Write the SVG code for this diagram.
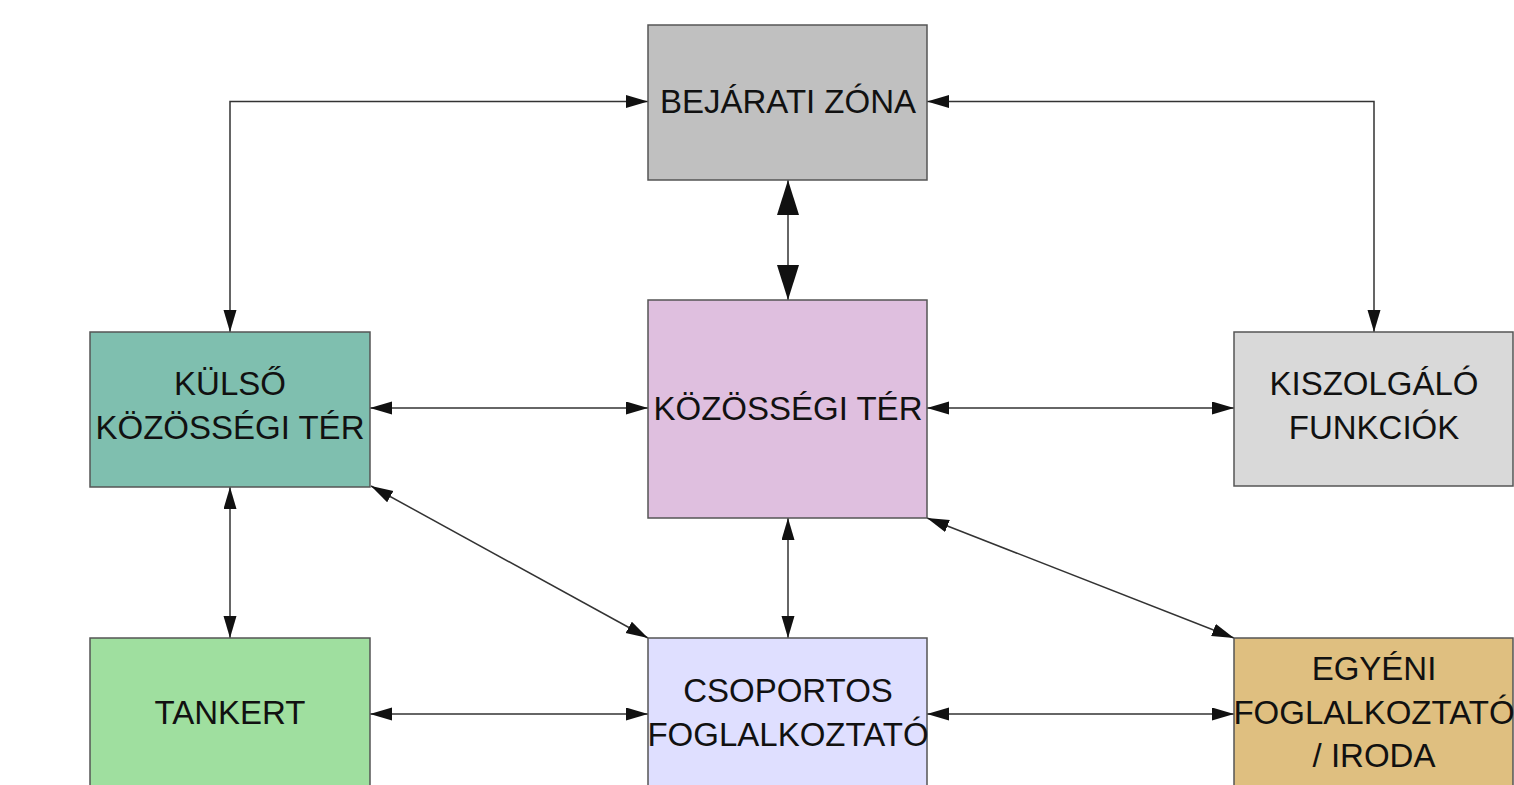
<svg xmlns="http://www.w3.org/2000/svg" width="1514" height="785" viewBox="0 0 1514 785">
  <defs>
    <marker id="sm" markerUnits="userSpaceOnUse" markerWidth="24" markerHeight="14" refX="22" refY="6.5" orient="auto-start-reverse">
      <path d="M0,0 L22,6.5 L0,13 z" fill="#111"/>
    </marker>
    <marker id="lg" markerUnits="userSpaceOnUse" markerWidth="38" markerHeight="24" refX="35" refY="11" orient="auto-start-reverse">
      <path d="M0,0 L35,11 L0,22 z" fill="#111"/>
    </marker>
  </defs>
  <style>
    .box { stroke: #555; stroke-width: 1.5; }
    .lbl { font-family: "Liberation Sans", Arial, sans-serif; font-size: 33px; fill: #111; text-anchor: middle; }
    .con { fill: none; stroke: #333; stroke-width: 1.5; marker-start: url(#sm); marker-end: url(#sm); }
    .con-lg { fill: none; stroke: #333; stroke-width: 1.5; marker-start: url(#lg); marker-end: url(#lg); }
  </style>
  <rect width="1514" height="785" fill="#fff"/>

  <g id="connectors">
    <polyline class="con" points="230,332 230,101.5 648,101.5"/>
    <polyline class="con" points="927,101.5 1374,101.5 1374,332"/>
    <line class="con-lg" x1="788" y1="180" x2="788" y2="300"/>
    <line class="con" x1="370" y1="408" x2="648" y2="408"/>
    <line class="con" x1="927" y1="408" x2="1234" y2="408"/>
    <line class="con" x1="230" y1="487" x2="230" y2="638"/>
    <line class="con" x1="371" y1="486" x2="648" y2="638"/>
    <line class="con" x1="788" y1="518" x2="788" y2="638"/>
    <line class="con" x1="927" y1="518" x2="1234" y2="638"/>
    <line class="con" x1="370" y1="714" x2="648" y2="714"/>
    <line class="con" x1="927" y1="714" x2="1234" y2="714"/>
  </g>

  <g id="bejarati-zona">
    <rect class="box" x="648" y="25" width="279" height="155" fill="#c0c0c0"/>
    <text class="lbl" x="788" y="113">BEJÁRATI ZÓNA</text>
  </g>
  <g id="kozossegi-ter">
    <rect class="box" x="648" y="300" width="279" height="218" fill="#dfbfdf"/>
    <text class="lbl" x="788" y="420">KÖZÖSSÉGI TÉR</text>
  </g>
  <g id="kulso-kozossegi-ter">
    <rect class="box" x="90" y="332" width="280" height="155" fill="#7fbfaf"/>
    <text class="lbl" x="230" y="395">KÜLSŐ</text>
    <text class="lbl" x="230" y="439">KÖZÖSSÉGI TÉR</text>
  </g>
  <g id="kiszolgalo-funkciok">
    <rect class="box" x="1234" y="332" width="279" height="154" fill="#d9d9d9"/>
    <text class="lbl" x="1374" y="395">KISZOLGÁLÓ</text>
    <text class="lbl" x="1374" y="439">FUNKCIÓK</text>
  </g>
  <g id="tankert">
    <rect class="box" x="90" y="638" width="280" height="170" fill="#9fdf9f"/>
    <text class="lbl" x="230" y="724">TANKERT</text>
  </g>
  <g id="csoportos-foglalkoztato">
    <rect class="box" x="648" y="638" width="279" height="170" fill="#dfdfff"/>
    <text class="lbl" x="788" y="702">CSOPORTOS</text>
    <text class="lbl" x="788" y="746">FOGLALKOZTATÓ</text>
  </g>
  <g id="egyeni-foglalkoztato">
    <rect class="box" x="1234" y="638" width="279" height="170" fill="#dfbf80"/>
    <text class="lbl" x="1374" y="680">EGYÉNI</text>
    <text class="lbl" x="1374" y="724">FOGLALKOZTATÓ</text>
    <text class="lbl" x="1374" y="767">/ IRODA</text>
  </g>
</svg>
